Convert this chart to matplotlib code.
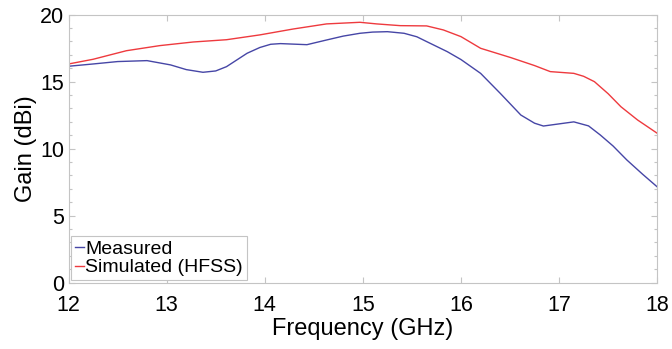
import matplotlib

matplotlib.use("Agg")
import matplotlib.pyplot as plt  # noqa: E402
from matplotlib.ticker import MultipleLocator  # noqa: E402

# gain curves (GHz, dBi)
freq_meas = [12.0, 12.25, 12.5, 12.8, 13.04, 13.2, 13.37, 13.5, 13.61, 13.82, 13.95,
             14.06, 14.16, 14.43, 14.63, 14.8, 14.97, 15.1, 15.25, 15.42, 15.55, 15.65,
             15.86, 16.0, 16.2, 16.4, 16.61, 16.75, 16.84, 17.0, 17.15, 17.3, 17.42,
             17.55, 17.69, 17.85, 18.0]
gain_meas = [16.15, 16.32, 16.5, 16.57, 16.25, 15.9, 15.7, 15.8, 16.12, 17.12, 17.55,
             17.79, 17.84, 17.76, 18.11, 18.4, 18.61, 18.7, 18.73, 18.61, 18.35, 17.99,
             17.24, 16.65, 15.62, 14.13, 12.51, 11.9, 11.69, 11.85, 12.0, 11.7, 11.02,
             10.2, 9.16, 8.1, 7.15]

freq_sim = [12.0, 12.25, 12.59, 12.93, 13.27, 13.61, 13.95, 14.29, 14.63, 14.97,
            15.14, 15.38, 15.65, 15.82, 16.0, 16.2, 16.51, 16.75, 16.91, 17.15,
            17.25, 17.36, 17.5, 17.63, 17.8, 18.0]
gain_sim = [16.32, 16.67, 17.31, 17.69, 17.96, 18.13, 18.49, 18.93, 19.31, 19.43,
            19.31, 19.18, 19.16, 18.86, 18.36, 17.49, 16.79, 16.2, 15.75, 15.62,
            15.4, 15.0, 14.1, 13.13, 12.14, 11.15]

x_ticks = [12, 13, 14, 15, 16, 17, 18]
y_ticks = [0, 5, 10, 15, 20]

plt.rcParams["font.family"] = ["Liberation Sans", "DejaVu Sans"]

fig = plt.figure(figsize=(6.72, 3.49), dpi=100)
ax = fig.add_axes([0.102, 0.19, 0.876, 0.768])

ax.plot(freq_meas, gain_meas, color="#4646a6", lw=1.0, label="Measured")
ax.plot(freq_sim, gain_sim, color="#ee3a3e", lw=1.0, label="Simulated (HFSS)")

ax.set_xlim(12, 18)
ax.set_ylim(0, 20)
ax.set_xticks(x_ticks)
ax.set_yticks(y_ticks)
ax.yaxis.set_minor_locator(MultipleLocator(1))

for s in ax.spines.values():
    s.set_color("#c4c4c4")
    s.set_linewidth(0.8)
ax.tick_params(which="both", direction="in", top=True, right=True, color="#c4c4c4",
               labelsize=15.5, width=0.8)
ax.tick_params(which="major", length=4)
ax.tick_params(which="minor", length=2.5)
ax.tick_params(axis="x", pad=9)
ax.tick_params(axis="y", pad=3)

ax.set_xlabel("Frequency (GHz)", fontsize=17, labelpad=1)
ax.set_ylabel("Gain (dBi)", fontsize=17, labelpad=2)

leg = ax.legend(loc="lower left", fontsize=14, handlelength=0.45, handletextpad=0.1,
                borderaxespad=0.12, borderpad=0.2, labelspacing=0.05, fancybox=False,
                framealpha=1.0, edgecolor="#c4c4c4")
leg.get_frame().set_linewidth(0.8)

fig.savefig("out.png", dpi=100)
